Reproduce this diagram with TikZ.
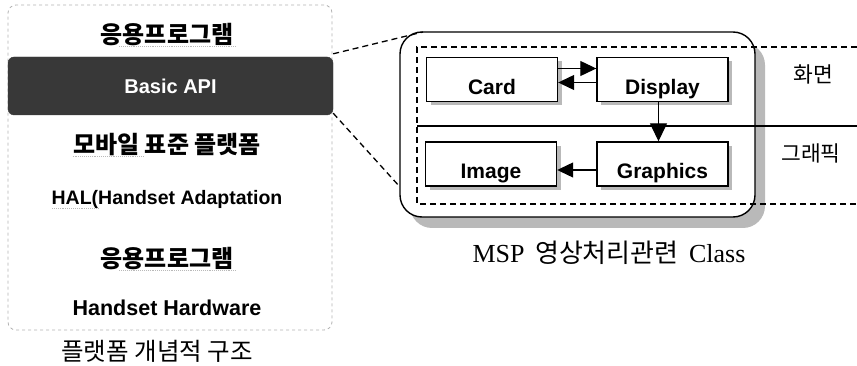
\documentclass[tikz,border=0pt]{standalone}
\usepackage{fontspec}
\setmainfont{Liberation Sans}
\newfontfamily\krfont{Noto Sans CJK KR}
\newfontfamily\serffont{Liberation Serif}
\usetikzlibrary{arrows.meta, positioning, shadows}

\begin{document}
\begin{tikzpicture}[x=1pt, y=-1pt,
    panel/.style={draw=gray!60, dashed, line width=0.8pt, rounded corners=8pt,
      minimum width=324pt, minimum height=325pt},
    band/.style={draw=black!78, fill=black!78, rounded corners=6pt,
      minimum width=325pt, minimum height=58pt, text=white,
      font=\fontsize{20}{22}\selectfont\bfseries},
    lyr/.style={font=\fontsize{21.5}{24}\selectfont\bfseries},
    krlyr/.style={font=\fontsize{24}{26}\selectfont\krfont\bfseries},
    squig/.style={gray!55, densely dotted, line width=0.9pt},
    mspbox/.style={draw, line width=1.4pt, fill=white, rounded corners=22pt,
      minimum width=355pt, minimum height=185pt,
      drop shadow={shadow xshift=10pt, shadow yshift=-11pt, fill=gray!55, opacity=1}},
    cls/.style={draw, line width=1.4pt, fill=white, minimum width=131pt,
      minimum height=44pt, inner sep=0pt, text height=30pt, text depth=0pt,
      font=\fontsize{21}{24}\selectfont\bfseries,
      drop shadow={shadow xshift=4pt, shadow yshift=-4pt, fill=gray!55, opacity=1}},
    dframe/.style={line width=1.2pt, dash pattern=on 6pt off 4pt},
    zoomln/.style={line width=1.3pt, dash pattern=on 6pt off 4pt},
    arr/.style={-{Triangle[length=16pt, width=15pt]}, line width=1.2pt},
    krlbl/.style={font=\fontsize{21.5}{24}\selectfont\krfont},
    captxt/.style={font=\fontsize{24.5}{27}\selectfont\krfont},
  ]
    \useasboundingbox (0,0) rectangle (857,366);

    % platform stack (left)
    \node[panel] (stack) at (170,167.5) {};
    \node[band] (api) at (170.5,86) {Basic API};
    \node[krlyr] (app1) at (167,35) {응용프로그램};
    \node[krlyr] (mobile) at (167,145) {모바일 표준 플랫폼};
    \node[lyr, font=\fontsize{19.5}{24}\selectfont\bfseries] (hal) at (167,199) {HAL(Handset Adaptation};
    \node[krlyr] (app2) at (167,259) {응용프로그램};
    \node[lyr] (hw) at (167,308) {Handset Hardware};
    \node[captxt] (stackcap) at (157,351) {플랫폼 개념적 구조};

    % spell-check marks
    \draw[squig] ([xshift=22pt, yshift=3pt]app1.south west) -- ([yshift=3pt]app1.south east);
    \draw[squig] ([xshift=3pt, yshift=3pt]mobile.south west) -- ([xshift=74pt, yshift=3pt]mobile.south west);
    \draw[squig] ([xshift=4pt, yshift=3pt]hal.south west) -- ([xshift=50pt, yshift=3pt]hal.south west);
    \draw[squig] ([xshift=22pt, yshift=3pt]app2.south west) -- ([yshift=3pt]app2.south east);

    % MSP classes (right)
    \node[mspbox] (msp) at (577.5,124.5) {};
    \draw[dframe] (857,47) -- (417,47) -- (417,204) -- (857,204);
    \draw[line width=1.2pt] (417,126) -- (857,126);

    \node[cls] (card) at (492,79.5) {Card};
    \node[cls] (display) at (662.5,79.5) {Display};
    \node[cls] (image) at (491,164) {Image};
    \node[cls] (graphics) at (662.5,164) {Graphics};

    \draw[arr] ([yshift=11pt]card.east) -- ([yshift=11pt]display.west);
    \draw[arr] ([yshift=-3pt]display.west) -- ([yshift=-3pt]card.east);
    \draw[arr, -{Triangle[length=18pt, width=17pt]}] ([xshift=-4pt]display.south) -- ([xshift=-4pt]graphics.north);
    \draw[arr] ([yshift=-6pt]graphics.west) -- ([yshift=-6pt]image.east);

    \node[krlbl] (screen) at (813,74) {화면};
    \node[krlbl] (gfx) at (811,153) {그래픽};
    \node[captxt, font=\fontsize{26}{28}\selectfont\serffont] (mspcap) at (609,253)
      {MSP\hspace{4pt} {\krfont 영상처리관련}\hspace{4pt} Class};

    % zoom lines from Basic API
    \coordinate (ztop) at (423,32);
    \coordinate (zbot) at (400,187);
    \draw[zoomln] ([yshift=3pt]api.north east) -- (ztop);
    \draw[zoomln] ([yshift=2pt]api.south east) -- (zbot);
\end{tikzpicture}
\end{document}
